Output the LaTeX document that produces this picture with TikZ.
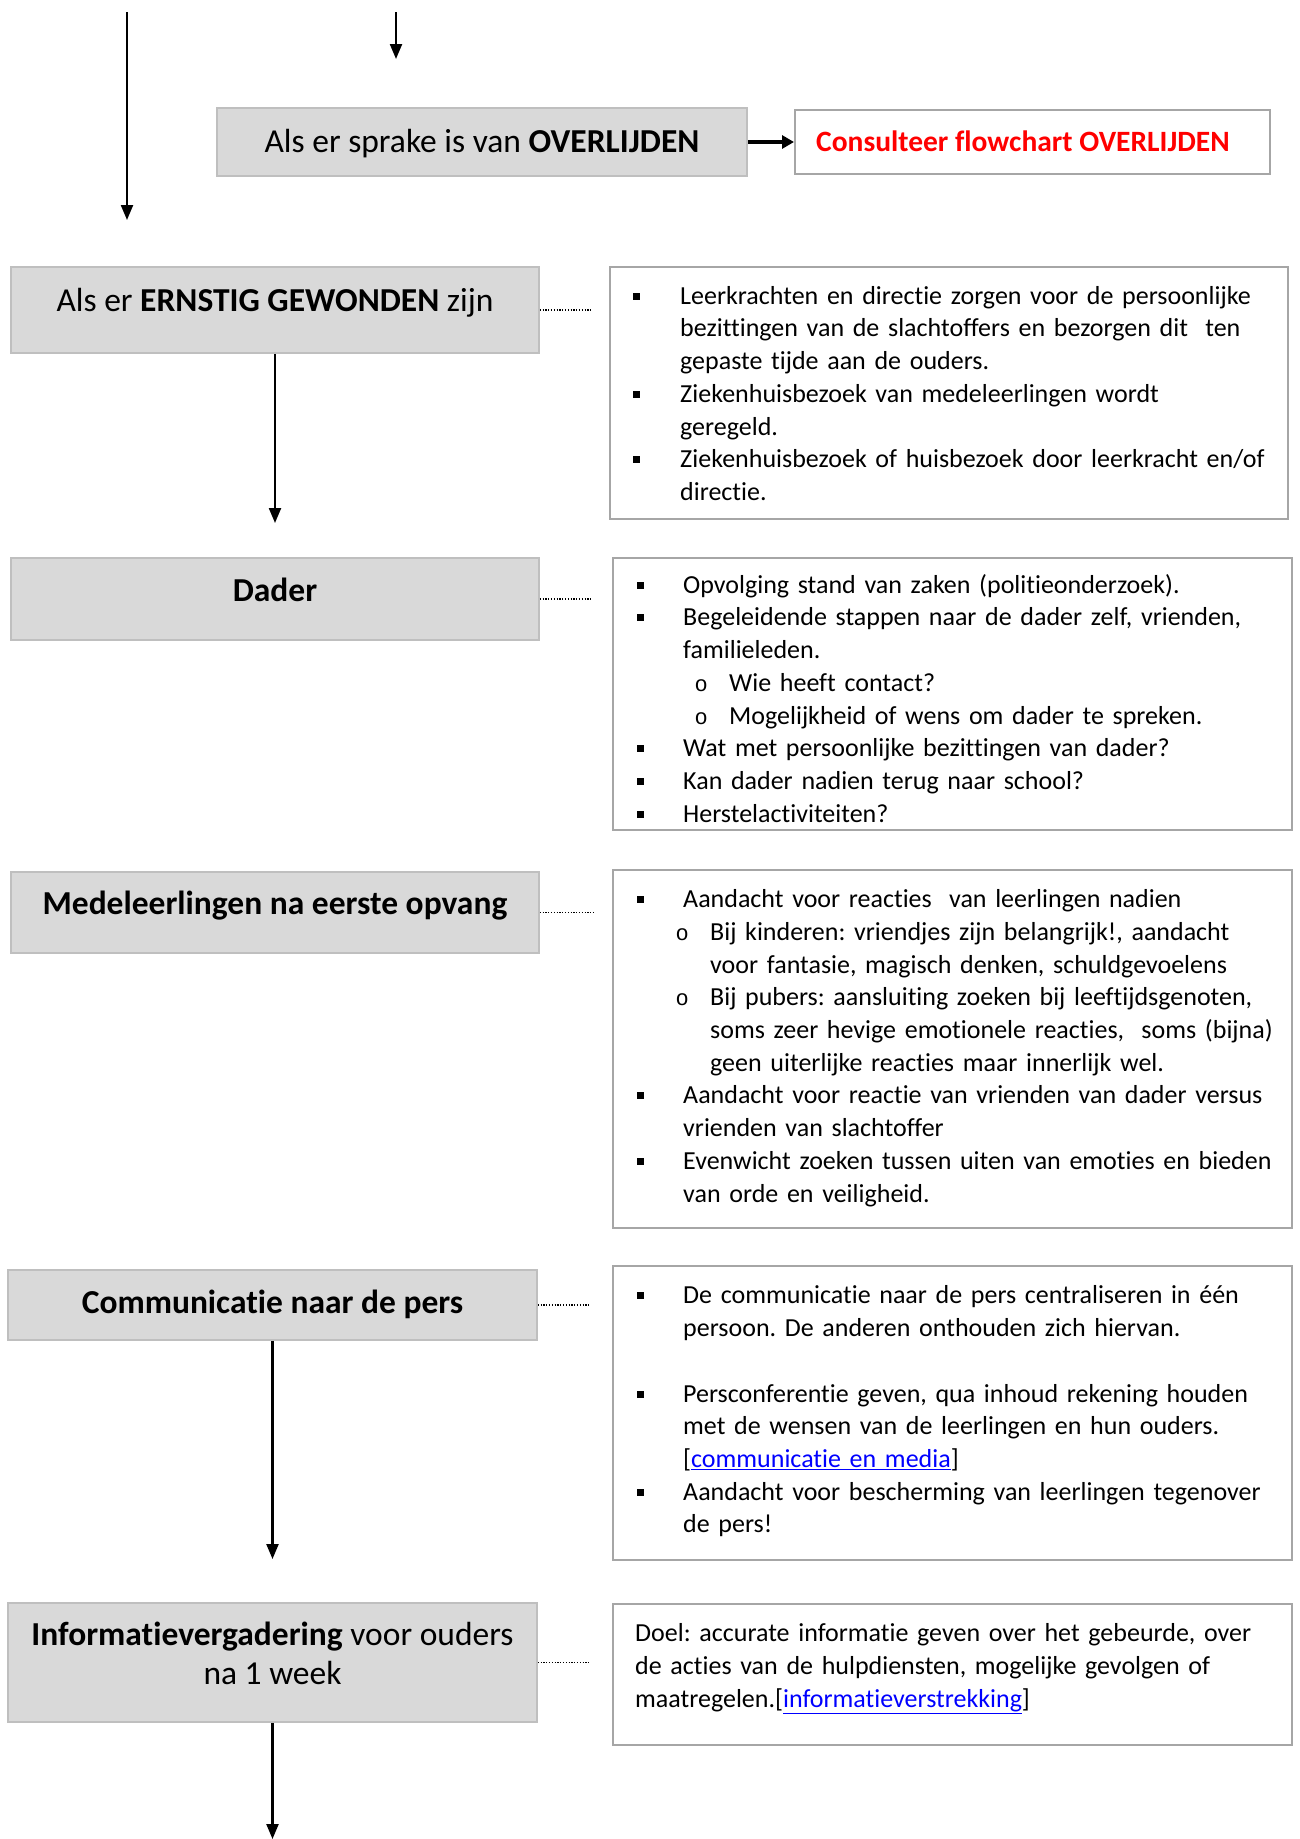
\documentclass[tikz,border=0pt]{standalone}
\usepackage{fontspec}
\setmainfont{Carlito}[Ligatures=NoCommon]
\newfontfamily\subbulfont{Liberation Mono}
\usetikzlibrary{arrows.meta}
\definecolor{boxfill}{HTML}{D9D9D9}
\definecolor{boxline}{HTML}{BFBFBF}
\definecolor{noteline}{HTML}{A6A6A6}
\definecolor{linkblue}{HTML}{0000FF}
\definecolor{alertred}{HTML}{FF0000}
\frenchspacing
\newcommand\sqbul{\rule[4.5pt]{7pt}{7pt}}
\newcommand\Bi[2]{\noindent\hangindent=#1\hangafter=1\rule{0pt}{24pt}\makebox[#1][l]{\sqbul}#2\par}
\newcommand\Si[3]{\noindent\hangindent=#2\hangafter=1\rule{0pt}{24pt}\hspace*{#1}\makebox[\dimexpr#2-#1\relax][l]{{\subbulfont\fontsize{22}{22}\selectfont o}}#3\par}
\newcommand\Lk[1]{\textcolor{linkblue}{\underline{#1}}}
\tikzset{
  graybox/.style={draw=boxline, line width=1.5pt, fill=boxfill, rectangle, inner sep=0pt},
  notebox/.style={draw=noteline, line width=2pt, fill=white, rectangle, inner sep=0pt},
  titletext/.style={inner sep=0pt, font={\fontsize{33.5}{38.7}\selectfont}},
  bodytext/.style={inner sep=0pt, anchor=north west, text width=700pt, align=left, font={\fontsize{26}{32.7}\selectfont\parskip=0pt\frenchspacing}},
  flow/.style={line width=2.2pt, -{Triangle[width=12pt,length=15pt]}},
  dotlink/.style={line width=1.3pt, dash pattern=on 1.3pt off 1.5pt},
}
\begin{document}
\begin{tikzpicture}[x=1pt,y=-1pt]
\useasboundingbox (0,0) rectangle (1299,1839);
% boxes
\node[graybox, minimum width=530pt, minimum height=68pt] (over) at (482,142) {};
\node[notebox, minimum width=475pt, minimum height=64pt] (cons) at (1032.5,142) {};
\node[graybox, minimum width=528pt, minimum height=86pt] (ernst) at (275,310) {};
\node[graybox, minimum width=528pt, minimum height=82pt] (dader) at (275,599) {};
\node[graybox, minimum width=528pt, minimum height=81pt] (mede) at (275,912.5) {};
\node[graybox, minimum width=529pt, minimum height=70pt] (comm) at (272.5,1305) {};
\node[graybox, minimum width=529pt, minimum height=119pt] (info) at (272.5,1662.5) {};
\node[notebox, minimum width=678pt, minimum height=252pt] (r1) at (949,393) {};
\node[notebox, minimum width=679pt, minimum height=272pt] (r2) at (952.5,694) {};
\node[notebox, minimum width=679pt, minimum height=358pt] (r3) at (952.5,1049) {};
\node[notebox, minimum width=679pt, minimum height=294pt] (r4) at (952.5,1413) {};
\node[notebox, minimum width=679pt, minimum height=141pt] (r5) at (952.5,1674.5) {};
% titles
\node[titletext, anchor=base] (tover) at (482,152.5) {Als er sprake is van \textbf{OVERLIJDEN}};
\node[titletext, anchor=base west, text=alertred, font={\fontsize{29.5}{36}\selectfont}] (tcons) at (816,151) {\textbf{Consulteer flowchart OVERLIJDEN}};
\node[titletext, anchor=base] (ternst) at (275,311) {Als er \textbf{ERNSTIG GEWONDEN} zijn};
\node[titletext, anchor=base] (tdader) at (275,601.5) {\textbf{Dader}};
\node[titletext, anchor=base] (tmede) at (275,914.5) {\textbf{Medeleerlingen na eerste opvang}};
\node[titletext, anchor=base] (tcomm) at (272.5,1313.5) {\textbf{Communicatie naar de pers}};
\node[titletext, anchor=base, align=center] (tinfo) at (272.5,1684.5) {\textbf{Informatievergadering} voor ouders\\na 1 week};
% body texts
\node[bodytext] (b1) at (633,280) {%
\Bi{47pt}{Leerkrachten en directie zorgen voor de persoonlijke\newline bezittingen van de slachtoffers en bezorgen dit~ ten\newline gepaste tijde aan de ouders.}
\Bi{47pt}{Ziekenhuisbezoek van medeleerlingen wordt\newline geregeld.}
\Bi{47pt}{Ziekenhuisbezoek of huisbezoek door leerkracht en/of\newline directie.}};
\node[bodytext] (b2) at (636.5,569) {%
\Bi{46.5pt}{Opvolging stand van zaken (politieonderzoek).}
\Bi{46.5pt}{Begeleidende stappen naar de dader zelf, vrienden,\newline familieleden.}
\Si{58pt}{92.5pt}{Wie heeft contact?}
\Si{58pt}{92.5pt}{Mogelijkheid of wens om dader te spreken.}
\Bi{46.5pt}{Wat met persoonlijke bezittingen van dader?}
\Bi{46.5pt}{Kan dader nadien terug naar school?}
\Bi{46.5pt}{Herstelactiviteiten?}};
\node[bodytext] (b3) at (636.5,883.5) {%
\Bi{46.5pt}{Aandacht voor reacties~ van leerlingen nadien}
\Si{39pt}{73.5pt}{Bij kinderen: vriendjes zijn belangrijk!, aandacht\newline voor fantasie, magisch denken, schuldgevoelens}
\Si{39pt}{73.5pt}{Bij pubers: aansluiting zoeken bij leeftijdsgenoten,\newline soms zeer hevige emotionele reacties,~ soms (bijna)\newline geen uiterlijke reacties maar innerlijk wel.}
\Bi{46.5pt}{Aandacht voor reactie van vrienden van dader versus\newline vrienden van slachtoffer}
\Bi{46.5pt}{Evenwicht zoeken tussen uiten van emoties en bieden\newline van orde en veiligheid.}};
\node[bodytext] (b4) at (636.5,1279.7) {%
\Bi{46.5pt}{De communicatie naar de pers centraliseren in één\newline persoon. De anderen onthouden zich hiervan.}
\noindent\rule{0pt}{24pt}\par
\Bi{46.5pt}{Persconferentie geven, qua inhoud rekening houden\newline met de wensen van de leerlingen en hun ouders.\newline [\Lk{communicatie en media}]}
\Bi{46.5pt}{Aandacht voor bescherming van leerlingen tegenover\newline de pers!}};
\node[bodytext] (b5) at (635,1617.4) {%
\noindent\rule{0pt}{24pt}Doel: accurate informatie geven over het gebeurde, over\newline de acties van de hulpdiensten, mogelijke gevolgen of\newline maatregelen.[\Lk{informatieverstrekking}]\par};
% free ends
\coordinate (a1s) at (127,12);
\coordinate (a1e) at (127,220);
\coordinate (a2s) at (396,12);
\coordinate (a2e) at (396,59);
\coordinate (a4e) at (275,523);
\coordinate (a5e) at (272.5,1559);
\coordinate (a6e) at (272.5,1839);
\coordinate (d1) at (592,310);
\coordinate (d2) at (592,599);
\coordinate (d3) at (594,912.5);
\coordinate (d4) at (590,1305);
\coordinate (d5) at (590,1662.5);
% connectors
\draw[flow] (a1s) -- (a1e);
\draw[flow] (a2s) -- (a2e);
\draw[line width=3.5pt, -{Triangle[width=13pt,length=12pt]}] (over.east) -- (cons.west);
\draw[flow] (ernst.south) -- (a4e);
\draw[flow] (comm.south) -- (a5e);
\draw[flow] (info.south) -- (a6e);
\draw[dotlink] (ernst.east) -- (d1);
\draw[dotlink] (dader.east) -- (d2);
\draw[dotlink] (mede.east) -- (d3);
\draw[dotlink] (comm.east) -- (d4);
\draw[dotlink] (info.east) -- (d5);
\end{tikzpicture}
\end{document}
